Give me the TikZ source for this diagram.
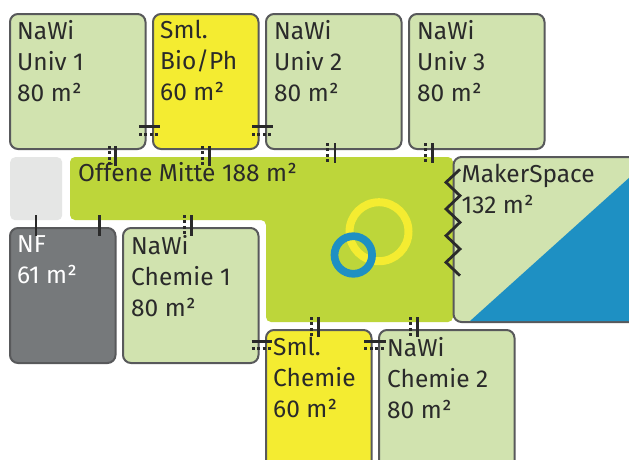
\documentclass[tikz,border=0pt]{standalone}
\usepackage{fontspec}
\setmainfont{Fira Sans}
\definecolor{lgreen}{HTML}{D1E3AF}
\definecolor{syel}{HTML}{F4EC31}
\definecolor{lime}{HTML}{BDD63A}
\definecolor{lgrey}{HTML}{E5E6E5}
\definecolor{dgrey}{HTML}{76797B}
\definecolor{sblue}{HTML}{1E90C3}
\definecolor{bline}{HTML}{58595B}
\definecolor{ink}{HTML}{2A2A2A}
\tikzset{
 room/.style={draw=bline,line width=2pt,rounded corners=8pt,anchor=north west,inner sep=0pt,outer sep=0pt},
 txt/.style={anchor=north west,inner sep=0pt,align=left,text=ink,font=\fontsize{24.5}{31}\selectfont},
 solidmark/.style={draw=ink,line width=2.8pt},
 dotmark/.style={draw=ink,line width=3pt,dash pattern=on 3pt off 2.4pt},
}
\newcommand{\vmark}[4]{% dotted x, solid x, y1, y2
 \draw[dotmark] (#1,#3) -- (#1,#4);
 \draw[solidmark] (#2,#3) -- (#2,#4);}
\newcommand{\hmark}[4]{% solid y, dotted y, x1, x2
 \draw[solidmark] (#3,#1) -- (#4,#1);
 \draw[dotmark] (#3,#2) -- (#4,#2);}
\newcommand{\room}[6]{% name, x, y, w, h, fill
 \node[room,fill=#6,minimum width=#4pt,minimum height=#5pt] (#1) at (#2,#3) {};}
\begin{document}
\begin{tikzpicture}[x=1pt,y=-1pt]
\useasboundingbox (0,0) rectangle (629,459);
\fill[white] (0,0) rectangle (629,459);
\begin{scope}
\clip (0,0) rectangle (629,459);
% open centre
\fill[lime,rounded corners=5pt] (70,157) -- (453,157) -- (453,322) -- (266,322) -- (266,220) -- (70,220) -- cycle;
\node[rounded corners=5pt,fill=lgrey,anchor=north west,minimum width=52pt,minimum height=63pt,inner sep=0pt] (store) at (10,157) {};
% rooms
\room{uni1}{10}{14}{135.5}{135}{lgreen}
\room{bio}{153}{14}{105.5}{135}{syel}
\room{uni2}{266}{14}{135.5}{135}{lgreen}
\room{uni3}{409}{14}{135.5}{135}{lgreen}
\room{nf}{10}{228}{105.5}{135}{dgrey}
\room{che1}{123}{228}{135.5}{135}{lgreen}
\room{smc}{266}{330}{105.5}{140}{syel}
\room{che2}{379}{330}{135.5}{140}{lgreen}
\room{maker}{453.5}{157}{190}{165}{lgreen}
\fill[sblue] (470,321) -- (640,321) -- (640,168) -- cycle;
% circles
\node[circle,draw=syel,line width=8pt,minimum size=59pt,inner sep=0pt] (cy) at (379,231.7) {};
\node[circle,draw=sblue,line width=7.7pt,minimum size=37.6pt,inner sep=0pt] (cb) at (353.3,255) {};
% labels
\node[txt] (t1) at ([shift={(7,6)}]uni1.north west) {NaWi\\Univ 1\\80 m²};
\node[txt] (t2) at ([shift={(7,6)}]bio.north west) {Sml.\\Bio/Ph\\60 m²};
\node[txt] (t3) at ([shift={(8,6)}]uni2.north west) {NaWi\\Univ 2\\80 m²};
\node[txt] (t4) at ([shift={(8,6)}]uni3.north west) {NaWi\\Univ 3\\80 m²};
\node[txt,text=white] (t5) at ([shift={(7,7)}]nf.north west) {NF\\61 m²};
\node[txt] (t6) at ([shift={(8,7)}]che1.north west) {NaWi\\Chemie 1\\80 m²};
\node[txt] (t7) at ([shift={(7,7)}]smc.north west) {Sml.\\Chemie\\60 m²};
\node[txt] (t8) at ([shift={(8,7)}]che2.north west) {NaWi\\Chemie 2\\80 m²};
\node[txt] (t9) at ([shift={(8,7)}]maker.north west) {MakerSpace\\132 m²};
\node[txt] (t10) at (78,162) {Offene Mitte 188 m²};
% door marks
\vmark{109.5}{115.7}{146}{166}
\vmark{202.7}{209.3}{146}{166}
\vmark{327}{335}{143}{163}
\vmark{425}{432.7}{143}{163}
\vmark{184.7}{191.7}{215}{236}
\vmark{311}{318.3}{317}{337}
\vmark{410.7}{417.7}{317}{337}
\hmark{126.3}{134}{139}{160}
\hmark{126.3}{134}{252}{273}
\hmark{341.3}{348.7}{251.7}{272.3}
\hmark{341.3}{348.7}{364.3}{385.7}
\draw[solidmark] (36,215) -- (36,236);
\draw[solidmark] (99.3,215) -- (99.3,236);
\draw[solidmark,line join=miter] (460,169.3) -- (446,182.3) -- (460,195.7) -- (446,209) -- (460,222.3) -- (446,235.7) -- (460,249) -- (446,262.3) -- (460,275.7);
\end{scope}
\end{tikzpicture}
\end{document}
